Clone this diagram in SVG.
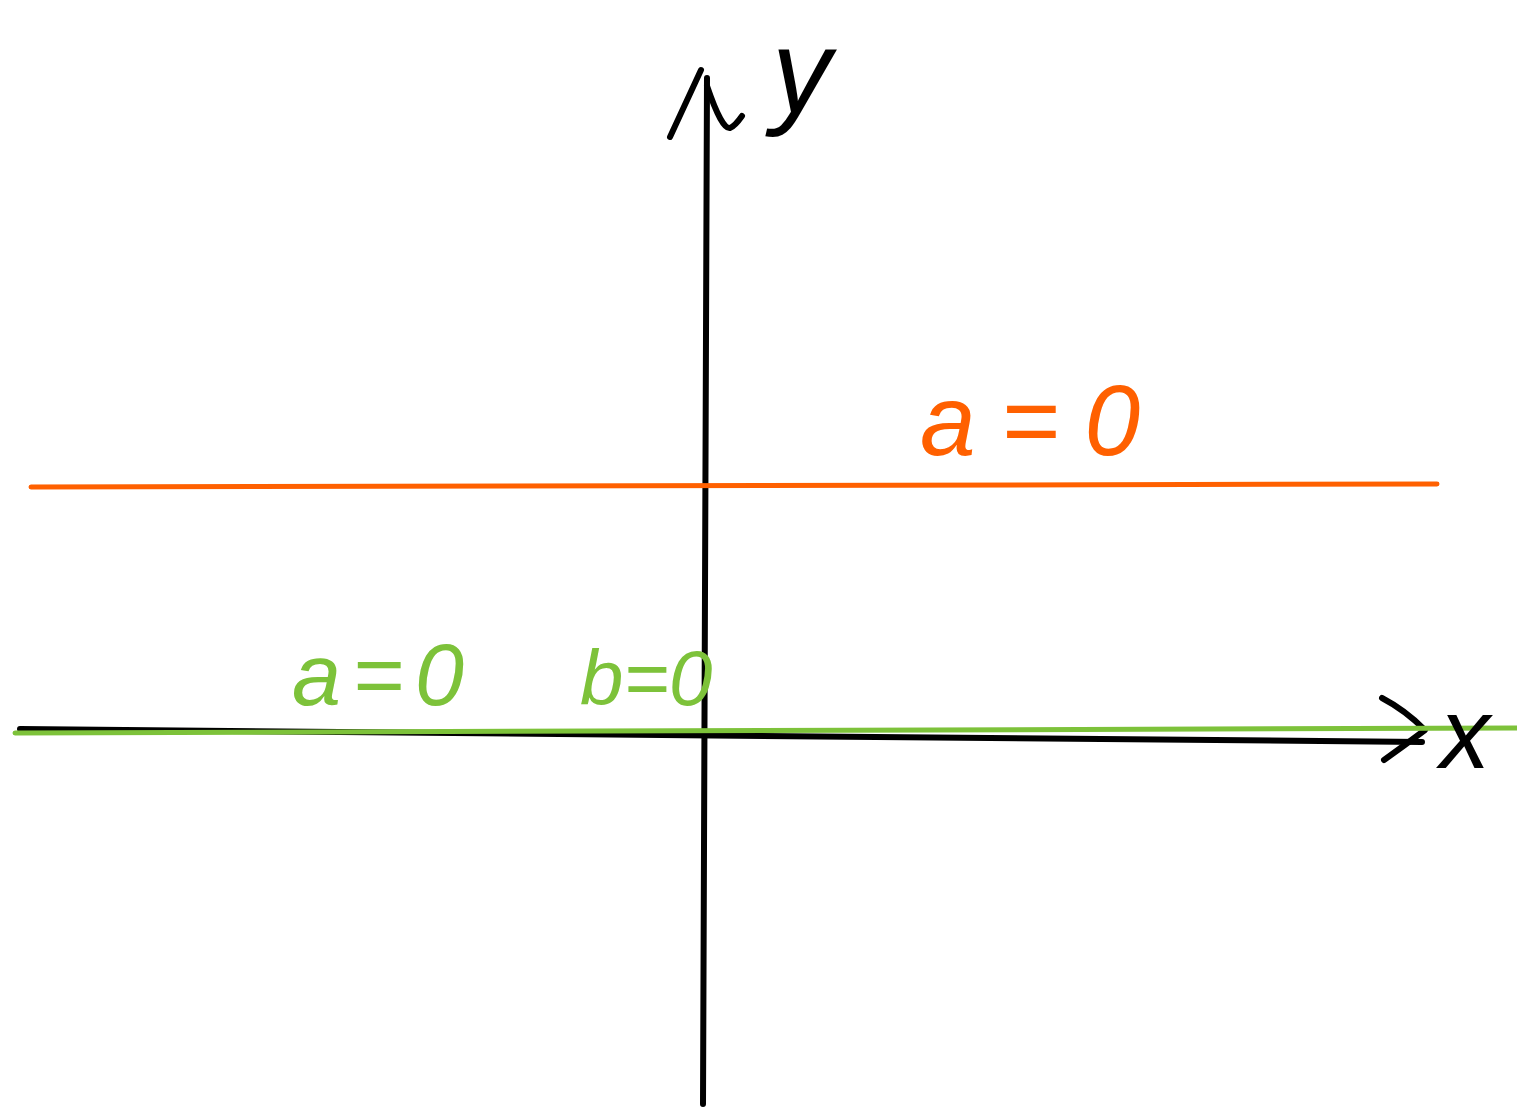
<svg xmlns="http://www.w3.org/2000/svg" width="1517" height="1108" viewBox="0 0 1517 1108">
<style>
.ax{fill:none;stroke:#000;stroke-width:6;stroke-linecap:round;stroke-linejoin:round}
.or{fill:none;stroke:#FF6000;stroke-width:5;stroke-linecap:round}
.gr{fill:none;stroke:#7DC23A;stroke-width:5;stroke-linecap:round}
.lbl{font-family:"Liberation Sans","DejaVu Sans",sans-serif;font-style:italic}
</style>
<rect width="1517" height="1108" fill="#fff"/>
<g id="connectors">
<path id="y-axis" class="ax" d="M703,1104 L707,78"/>
<path id="y-arrow" class="ax" d="M670,137 L701,70 M707,86 Q722,130 730,128 Q735,126 742,116"/>
<path id="x-axis" class="ax" d="M20,729 L1422,742"/>
<path id="x-arrow" class="ax" d="M1382,698 Q1405,710 1425,730 Q1405,745 1384,760"/>
<path id="orange-line" class="or" d="M31,487 L1437,484"/>
<path id="green-line" class="gr" d="M15,733 L1517,728"/>
</g>
<g id="label-a0-orange"><text class="lbl" x="920" y="455" font-size="100" fill="#FF6000" textLength="220" lengthAdjust="spacing">a=0</text></g>
<g id="label-a0-green"><text class="lbl" x="292" y="705" font-size="88" fill="#7DC23A" textLength="172" lengthAdjust="spacing">a=0</text></g>
<g id="label-b0-green"><text class="lbl" x="580" y="705" font-size="78" fill="#7DC23A">b=0</text></g>
<g id="label-y"><text class="lbl" x="772" y="112" font-size="118" fill="#000">y</text></g>
<g id="label-x"><text class="lbl" x="1440" y="768" font-size="100" fill="#000">x</text></g>
</svg>
